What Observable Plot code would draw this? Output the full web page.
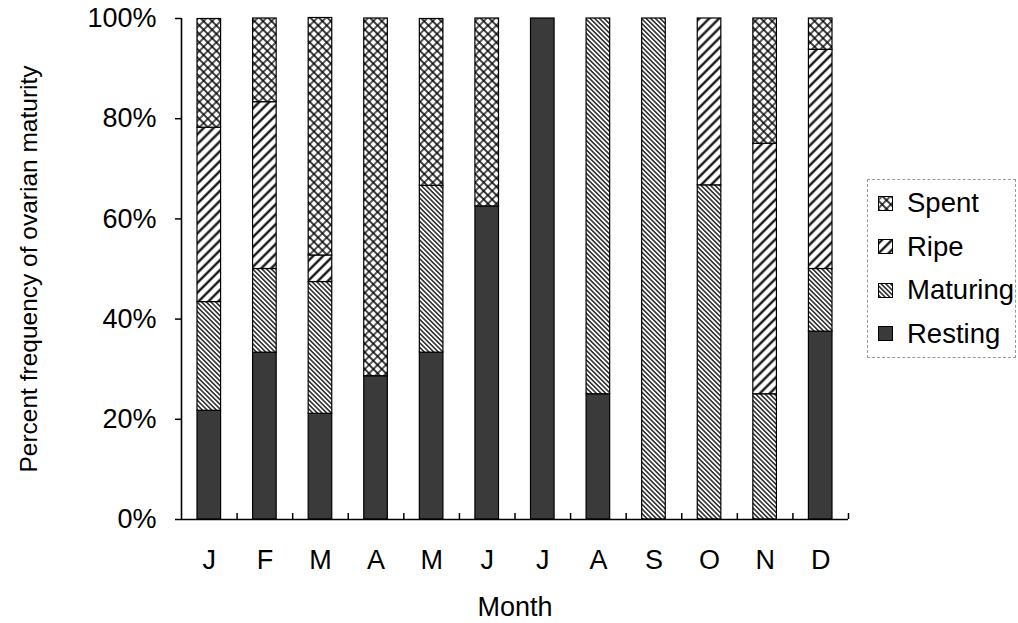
<!DOCTYPE html>
<html><head><meta charset="utf-8">
<script src="https://cdn.jsdelivr.net/npm/d3@7"></script>
<script src="https://cdn.jsdelivr.net/npm/@observablehq/plot@0.6"></script>
<style>
body{margin:0;background:#fff;}
#wrap{position:relative;width:1018px;height:623px;font-family:"Liberation Sans",Arial,sans-serif;color:#000;}
#legend{position:absolute;left:867px;top:179px;width:149px;height:179px;border:1px dashed #999;box-sizing:border-box;}
.item{position:absolute;left:10px;height:32px;display:flex;align-items:center;font-size:27.5px;line-height:32px;}
.item svg{margin-right:14px;}
</style></head><body>
<svg width="0" height="0" style="position:absolute">
<defs>
<pattern id="pat-Spent" width="6" height="6" patternUnits="userSpaceOnUse" patternTransform="rotate(45)">
<rect width="6" height="6" fill="#fff"/><path d="M0,3H6M3,0V6" stroke="#000" stroke-width="1.3"/></pattern>
<pattern id="pat-Ripe" width="7" height="7" patternUnits="userSpaceOnUse" patternTransform="rotate(-45)">
<rect width="7" height="7" fill="#fff"/><path d="M0,3.5H7" stroke="#000" stroke-width="2.2"/></pattern>
<pattern id="pat-Maturing" width="3.3" height="3.3" patternUnits="userSpaceOnUse" patternTransform="rotate(45)">
<rect width="3.3" height="3.3" fill="#fff"/><path d="M0,1.65H3.3" stroke="#000" stroke-width="1.3"/></pattern>
<pattern id="pat-Resting" width="4" height="4" patternUnits="userSpaceOnUse">
<rect width="4" height="4" fill="#3a3a3a"/></pattern>
</defs></svg>
<div id="wrap"></div>
<script>
const months = ["Jan","Feb","Mar","Apr","May","Jun","Jul","Aug","Sep","Oct","Nov","Dec"];
const monthLabels = ["J","F","M","A","M","J","J","A","S","O","N","D"];
const stages = ["Resting","Maturing","Ripe","Spent"];
const legendOrder = ["Spent","Ripe","Maturing","Resting"];
const resting  = [21.7, 33.3, 21.1, 28.6, 33.3, 62.5, 100, 25,   0,   0,    0,  37.5];
const maturing = [21.7, 16.7, 26.3,  0,   33.3,  0,     0, 75, 100,  66.7, 25,  12.5];
const ripe     = [34.8, 33.3,  5.3,  0,    0,    0,     0,  0,   0,  33.3, 50,  43.75];
const spent    = [21.7, 16.7, 47.4, 71.4, 33.3, 37.5,   0,  0,   0,   0,   25,   6.25];
const yTicks = [0, 20, 40, 60, 80, 100];

const series = {Resting: resting, Maturing: maturing, Ripe: ripe, Spent: spent};
const rows = [];
months.forEach((m, i) => stages.forEach(s => { if (series[s][i] > 0) rows.push({month: m, stage: s, value: series[s][i]}); }));

const W = 1018, H = 623, mL = 181, mR = 170, mT = 18, mB = 104;
const step = (W - mL - mR) / months.length;
const font = '"Liberation Sans", Arial, sans-serif';

const plot = Plot.plot({
  width: W, height: H,
  marginLeft: mL, marginRight: mR, marginTop: mT, marginBottom: mB,
  style: {fontFamily: font, fontSize: "27px", color: "#000", background: "transparent", overflow: "visible"},
  x: {domain: months, padding: 0, round: false},
  y: {domain: [0, 100]},
  color: {domain: stages, range: stages.map(s => `url(#pat-${s})`)},
  marks: [
    Plot.barY(rows, {x: "month", y: "value", fill: "stage", order: stages, stroke: "#000", strokeWidth: 1.2, insetLeft: 16, insetRight: 16}),
    Plot.axisY({ticks: yTicks, tickFormat: d => d + "%", tickSize: 6, tickPadding: 19, strokeWidth: 1.5, fontSize: 27,
      label: null}),
    Plot.axisY({ticks: [], label: "Percent frequency of ovarian maturity", labelArrow: "none", labelAnchor: "center", labelOffset: 162, fontSize: 24.5}),
    Plot.axisX({tickSize: 0, tickPadding: 30, tickFormat: d => monthLabels[months.indexOf(d)], fontSize: 27,
      label: "Month", labelAnchor: "center", labelOffset: 96}),
    Plot.ruleY([0], {stroke: "#000", strokeWidth: 1.6}),
    Plot.ruleX(months.slice(0, 1), {dx: -step / 2, y1: 0, y2: 100, stroke: "#000", strokeWidth: 1.6}),
    Plot.ruleX(months, {dx: step / 2, y1: 0, y2: 1.2, stroke: "#000", strokeWidth: 1.5})
  ]
});
const wrap = document.getElementById("wrap");
wrap.appendChild(plot);

const legend = document.createElement("div");
legend.id = "legend";
legendOrder.forEach((s, i) => {
  const it = document.createElement("div");
  it.className = "item";
  it.style.top = (7 + i * 43.5) + "px";
  it.innerHTML = `<svg width="15" height="15"><rect x="0.5" y="0.5" width="14" height="14" fill="url(#pat-${s})" stroke="#000" stroke-width="1"/></svg><span>${s}</span>`;
  legend.appendChild(it);
});
wrap.appendChild(legend);
</script>
</body></html>
